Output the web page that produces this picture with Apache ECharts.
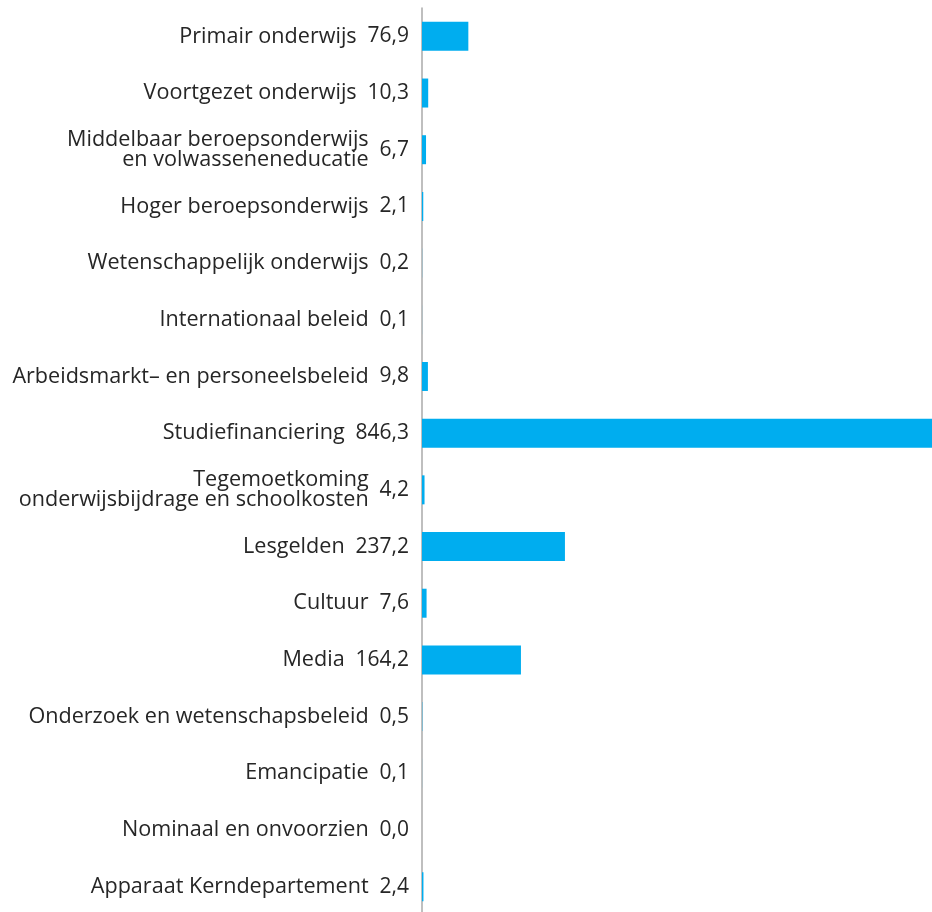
<!DOCTYPE html>
<html>
<head>
<meta charset="utf-8">
<script src="https://cdn.jsdelivr.net/npm/echarts@6/dist/echarts.min.js"></script>
<style>html,body{margin:0;padding:0;background:#fff;overflow:hidden}#c{width:932px;height:920px}</style>
</head>
<body>
<div id="c"></div>
<script>
const categories = [
  "Primair onderwijs",
  "Voortgezet onderwijs",
  "Middelbaar beroepsonderwijs\nen volwasseneneducatie",
  "Hoger beroepsonderwijs",
  "Wetenschappelijk onderwijs",
  "Internationaal beleid",
  "Arbeidsmarkt– en personeelsbeleid",
  "Studiefinanciering",
  "Tegemoetkoming\nonderwijsbijdrage en schoolkosten",
  "Lesgelden",
  "Cultuur",
  "Media",
  "Onderzoek en wetenschapsbeleid",
  "Emancipatie",
  "Nominaal en onvoorzien",
  "Apparaat Kerndepartement"
];
const values = [76.9, 10.3, 6.7, 2.1, 0.2, 0.1, 9.8, 846.3, 4.2, 237.2, 7.6, 164.2, 0.5, 0.1, 0.0, 2.4];

const FONT = "Open Sans";
const FS_NAME = 21.6;
const FS_VAL = 21;
const fmt = v => v.toFixed(1).replace('.', ',');

const chart = echarts.init(document.getElementById('c'), null, {renderer: 'canvas'});
chart.setOption({
  animation: false,
  grid: {left: 422, width: 510, top: 8, height: 907, containLabel: false},
  xAxis: {
    type: 'value', min: 0, max: 846.3, show: false
  },
  yAxis: {
    type: 'category', inverse: true, data: categories,
    axisLine: {show: true, lineStyle: {color: '#aaaaaa', width: 1.5}},
    axisTick: {show: false},
    splitLine: {show: false},
    axisLabel: {
      margin: 13,
      align: 'right',
      formatter: function (name, idx) {
        const v = fmt(values[idx]);
        return name.split('\n').map(l => '{n|' + l + '}{s|  ' + v + '}').join('\n');
      },
      rich: {
        n: {fontFamily: FONT, fontSize: FS_NAME, color: '#262626', lineHeight: 20.5},
        s: {fontFamily: FONT, fontSize: FS_VAL, color: 'rgba(0,0,0,0)', lineHeight: 20.5}
      }
    }
  },
  series: [{
    type: 'bar',
    data: values,
    barWidth: 29,
    itemStyle: {color: '#00adef'},
    label: {
      show: true, position: 'left', distance: 13,
      fontFamily: FONT, fontSize: FS_VAL, color: '#262626',
      formatter: p => fmt(p.value)
    }
  }]
});
</script>
</body>
</html>
